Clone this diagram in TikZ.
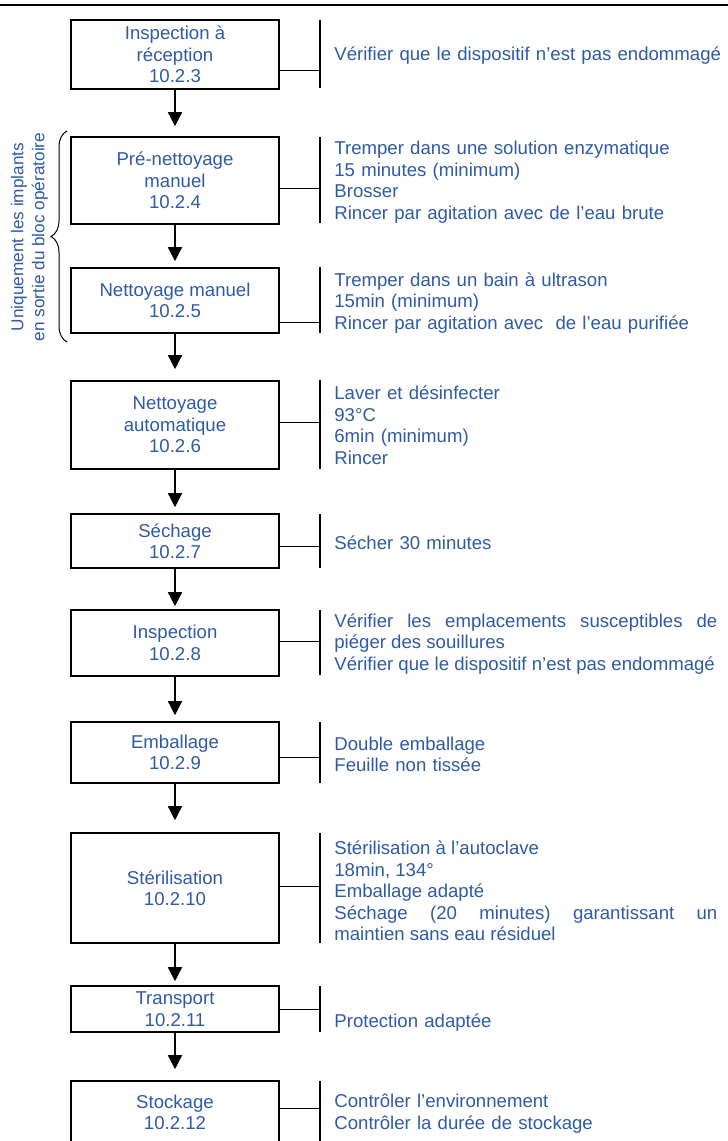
\documentclass[tikz,border=0pt]{standalone}
\usepackage{fontspec}
\setmainfont{Liberation Sans}
\usetikzlibrary{arrows.meta,decorations.pathreplacing}
\definecolor{txtblue}{RGB}{47,90,166}
\hyphenpenalty=10000
\setlength{\parindent}{0pt}

\begin{document}
\begin{tikzpicture}[x=0.5pt,y=-0.5pt,font=\fontsize{9.3pt}{10.75pt}\selectfont]
\tikzstyle{stepbox} = [rectangle, draw=black, line width=0.8pt, minimum width=104pt, inner sep=0pt, align=center, text=txtblue]
\tikzstyle{notes} = [anchor=west, inner sep=0pt, text width=200pt, align=left, text=txtblue]
\tikzstyle{justnotes} = [notes, text width=191.5pt, align=justify, execute at begin node={\spaceskip=\fontdimen2\font plus \fontdimen3\font\relax}]
\tikzstyle{bar} = [line width=0.7pt]
\tikzstyle{link} = [line width=0.5pt]
\tikzstyle{flow} = [line width=0.7pt, -{Triangle[width=7pt,length=7pt]}]
\useasboundingbox (0,0) rectangle (728,1141);
\clip (0,0) rectangle (728,1141);
\draw[line width=1pt] (0,5) -- (728,5);

% process steps
\node (b1)[stepbox, minimum height=34.5pt] at (175,54.5) {Inspection à\\réception\\10.2.3};
\node (b2)[stepbox, minimum height=43.5pt] at (175,180.5) {Pré-nettoyage\\manuel\\10.2.4};
\node (b3)[stepbox, minimum height=32.5pt] at (175,300.5) {Nettoyage manuel\\10.2.5};
\node (b4)[stepbox, minimum height=44pt] at (175,425) {Nettoyage\\automatique\\10.2.6};
\node (b5)[stepbox, minimum height=27pt] at (175,541) {Séchage\\10.2.7};
\node (b6)[stepbox, minimum height=33pt] at (175,643) {Inspection\\10.2.8};
\node (b7)[stepbox, minimum height=30.5pt] at (175,752.5) {Emballage\\10.2.9};
\node (b8)[stepbox, minimum height=55pt] at (175,888) {Stérilisation\\10.2.10};
\node (b9)[stepbox, minimum height=23pt] at (175,1009) {Transport\\10.2.11};
\node (b10)[stepbox, minimum height=31.5pt] at (175,1112.5) {Stockage\\10.2.12};

\draw [flow, shorten >=5pt] (b1) -- (b2);
\draw [flow, shorten >=3pt] (b2) -- (b3);
\draw [flow, shorten >=5.5pt] (b3) -- (b4);
\draw [flow, shorten >=3pt] (b4) -- (b5);
\draw [flow, shorten >=1.5pt] (b5) -- (b6);
\draw [flow, shorten >=3pt] (b6) -- (b7);
\draw [flow, shorten >=6pt] (b7) -- (b8);
\draw [flow, shorten >=2pt] (b8) -- (b9);
\draw [flow, shorten >=5.5pt] (b9) -- (b10);

% instructions
\draw[bar] (320,20) -- (320,88);
\draw[bar] (320,137) -- (320,223);
\draw[bar] (320,267) -- (320,333);
\draw[bar] (320,380) -- (320,469);
\draw[bar] (320,514) -- (320,568);
\draw[bar] (320,610) -- (320,675);
\draw[bar] (320,722) -- (320,783);
\draw[bar] (320,833) -- (320,943);
\draw[bar] (320,986) -- (320,1032);
\draw[bar] (320,1081) -- (320,1145);
\coordinate (k1) at (320,70);
\coordinate (k2) at (320,188);
\coordinate (k3) at (320,322);
\coordinate (k4) at (320,422);
\coordinate (k5) at (320,546);
\coordinate (k6) at (320,641);
\coordinate (k7) at (320,757);
\coordinate (k8) at (320,886);
\coordinate (k9) at (320,1009);
\coordinate (k10) at (320,1108);
\draw[link] (k1 -| b1.east) -- (k1);
\draw[link] (k2 -| b2.east) -- (k2);
\draw[link] (k3 -| b3.east) -- (k3);
\draw[link] (k4 -| b4.east) -- (k4);
\draw[link] (k5 -| b5.east) -- (k5);
\draw[link] (k6 -| b6.east) -- (k6);
\draw[link] (k7 -| b7.east) -- (k7);
\draw[link] (k8 -| b8.east) -- (k8);
\draw[link] (k9 -| b9.east) -- (k9);
\draw[link] (k10 -| b10.east) -- (k10);

\node (n1)[notes] at (334,55.5) {Vérifier que le dispositif n’est pas endommagé};
\node (n2)[notes] at (334,182) {Tremper dans une solution enzymatique\\15 minutes (minimum)\\Brosser\\Rincer par agitation avec de l’eau brute};
\node (n3)[notes] at (334,303) {Tremper dans un bain à ultrason\\15min (minimum)\\Rincer par agitation avec\ \ de l’eau purifiée};
\node (n4)[notes] at (334,425) {Laver et désinfecter\\93°C\\6min (minimum)\\Rincer};
\node (n5)[notes] at (334,543) {Sécher 30 minutes};
\node (n6)[justnotes] at (334,644) {Vérifier les emplacements susceptibles de piéger des souillures\par Vérifier que le dispositif n’est pas endommagé};
\node (n7)[notes] at (334,754.5) {Double emballage\\Feuille non tissée};
\node (n8)[justnotes] at (334,891) {Stérilisation à l’autoclave\par 18min, 134°\par Emballage adapté\par Séchage (20 minutes) garantissant un maintien sans eau résiduel};
\node (n9)[notes] at (334,1022.5) {Protection adaptée};
\node (n10)[notes] at (334,1113.5) {Contrôler l’environnement\\Contrôler la durée de stockage};

% implants only
\draw[decorate, decoration={brace, amplitude=8pt}, line width=0.5pt] (67,342) -- (67,131);
\node (only)[rotate=90, align=center, text=txtblue, font=\fontsize{8.6pt}{10.5pt}\selectfont] at (29.5,237) {Uniquement les implants\\en sortie du bloc opératoire};
\end{tikzpicture}
\end{document}
